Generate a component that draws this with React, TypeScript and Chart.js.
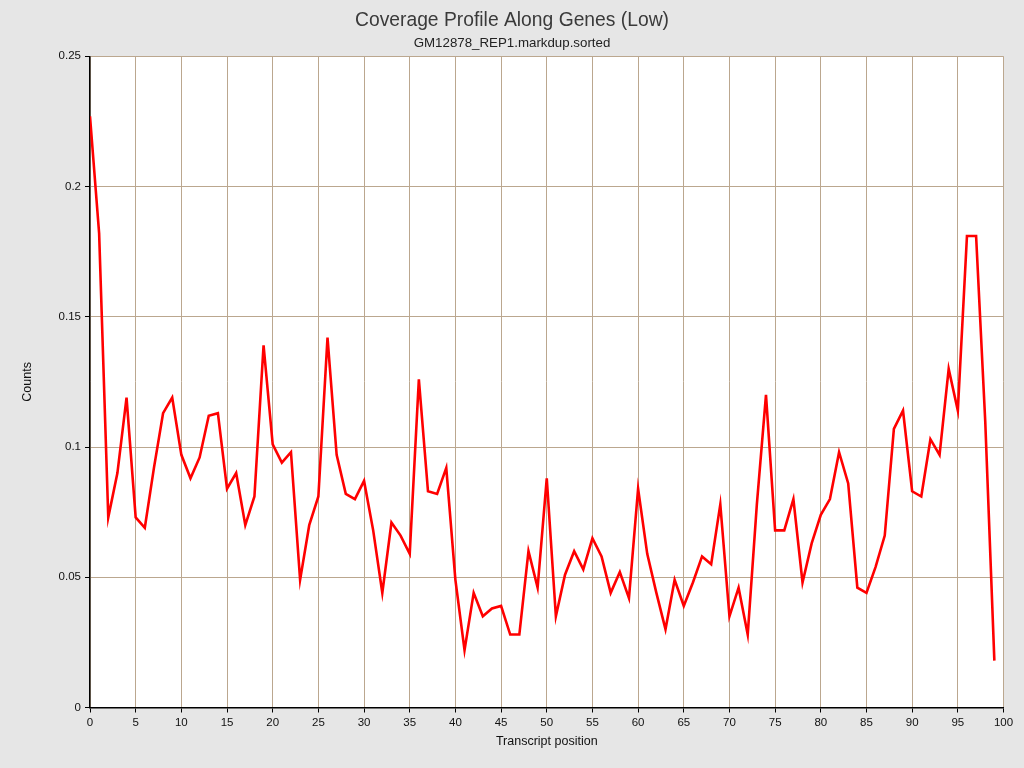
import { useEffect, useRef } from 'react';
import { Chart, registerables } from 'chart.js';

Chart.register(...registerables);

const FONT = '"Liberation Sans", Arial, Helvetica, sans-serif';

const chartTitle = 'Coverage Profile Along Genes (Low)';
const chartSubtitle = 'GM12878_REP1.markdup.sorted';
const xAxisLabel = 'Transcript position';
const yAxisLabel = 'Counts';

// transcript positions (x)
const positions = [
  0, 1, 2, 3, 4, 5, 6, 7, 8, 9, 10, 11, 12, 13, 14, 15, 16, 17, 18, 19,
  20, 21, 22, 23, 24, 25, 26, 27, 28, 29, 30, 31, 32, 33, 34, 35, 36, 37, 38, 39,
  40, 41, 42, 43, 44, 45, 46, 47, 48, 49, 50, 51, 52, 53, 54, 55, 56, 57, 58, 59,
  60, 61, 62, 63, 64, 65, 66, 67, 68, 69, 70, 71, 72, 73, 74, 75, 76, 77, 78, 79,
  80, 81, 82, 83, 84, 85, 86, 87, 88, 89, 90, 91, 92, 93, 94, 95, 96, 97, 98, 99
];

// coverage counts
const counts = [
  0.227, 0.182, 0.073, 0.090, 0.119, 0.073, 0.069, 0.092, 0.113, 0.119,
  0.097, 0.088, 0.096, 0.112, 0.113, 0.084, 0.090, 0.070, 0.081, 0.139,
  0.101, 0.094, 0.098, 0.049, 0.070, 0.081, 0.142, 0.097, 0.082, 0.080,
  0.087, 0.068, 0.044, 0.071, 0.066, 0.059, 0.126, 0.083, 0.082, 0.092,
  0.049, 0.022, 0.044, 0.035, 0.038, 0.039, 0.028, 0.028, 0.060, 0.046,
  0.088, 0.035, 0.051, 0.060, 0.053, 0.065, 0.058, 0.044, 0.052, 0.042,
  0.084, 0.059, 0.044, 0.030, 0.049, 0.039, 0.048, 0.058, 0.055, 0.078,
  0.035, 0.046, 0.028, 0.078, 0.120, 0.068, 0.068, 0.080, 0.048, 0.063,
  0.074, 0.080, 0.098, 0.086, 0.046, 0.044, 0.054, 0.066, 0.107, 0.114,
  0.083, 0.081, 0.103, 0.097, 0.130, 0.114, 0.181, 0.181, 0.110, 0.018
];

const xRange = [0, 100];
const yRange = [0, 0.25];
const yTicks = [0, 0.05, 0.1, 0.15, 0.2, 0.25];
const yTickLabels = ['0', '0.05', '0.1', '0.15', '0.2', '0.25'];

// gray page, white plot area
const backdrop = {
  id: 'backdrop',
  beforeDraw(chart: Chart) {
    const { ctx, chartArea } = chart;
    ctx.save();
    ctx.fillStyle = '#e6e6e6';
    ctx.fillRect(0, 0, chart.width, chart.height);
    ctx.fillStyle = '#ffffff';
    ctx.fillRect(chartArea.left, chartArea.top, chartArea.right - chartArea.left, chartArea.bottom - chartArea.top);
    ctx.restore();
  }
};

export default function App() {
  const canvasRef = useRef<HTMLCanvasElement>(null);
  const chartRef = useRef<Chart | null>(null);

  useEffect(() => {
    if (!canvasRef.current) return;
    if (chartRef.current) chartRef.current.destroy();

    chartRef.current = new Chart(canvasRef.current, {
      type: 'line',
      data: {
        datasets: [
          {
            label: yAxisLabel,
            data: positions.map((p, i) => ({ x: p, y: counts[i] })),
            borderColor: '#ff0000',
            borderWidth: 2.6,
            pointRadius: 0,
            tension: 0,
            fill: false,
            xAxisID: 'x',
            yAxisID: 'y'
          }
        ]
      },
      options: {
        responsive: false,
        animation: false,
        layout: { padding: 0 },
        plugins: {
          legend: { display: false },
          tooltip: { enabled: false },
          title: {
            display: true,
            text: chartTitle,
            color: '#3a3a3a',
            font: { family: FONT, size: 19.3, weight: 'normal' },
            padding: { top: 9, bottom: 0 }
          },
          subtitle: {
            display: true,
            text: chartSubtitle,
            color: '#222222',
            font: { family: FONT, size: 13.3 },
            padding: { top: 3.2, bottom: 5 }
          }
        },
        scales: {
          x: {
            type: 'linear',
            min: xRange[0],
            max: xRange[1],
            afterFit: (scale: any) => { scale.height = 60.5; },
            ticks: {
              stepSize: 5,
              color: '#111111',
              padding: 3,
              maxRotation: 0,
              font: { family: FONT, size: 11.5 }
            },
            grid: { color: '#bba78f', tickColor: '#000000', tickLength: 5, lineWidth: 1 },
            border: { display: true, color: '#000000', width: 1.5 },
            title: {
              display: true,
              text: xAxisLabel,
              color: '#111111',
              font: { family: FONT, size: 12.5 },
              padding: { top: 0, bottom: 19 }
            }
          },
          y: {
            type: 'linear',
            min: yRange[0],
            max: yRange[1],
            afterFit: (scale: any) => { scale.width = 90; },
            afterBuildTicks: (scale: any) => {
              scale.ticks = yTicks.map((v) => ({ value: v }));
            },
            ticks: {
              color: '#111111',
              padding: 4,
              font: { family: FONT, size: 11.5 },
              callback: (_v: any, i: number) => yTickLabels[i]
            },
            grid: { color: '#bba78f', tickColor: '#000000', tickLength: 5, lineWidth: 1 },
            border: { display: true, color: '#000000', width: 1.5 },
            title: {
              display: true,
              text: yAxisLabel,
              color: '#111111',
              font: { family: FONT, size: 12.5 },
              padding: { top: 20, bottom: 0 }
            }
          },
          // empty margin on the right so the titles stay centred on the page
          margin: {
            type: 'linear',
            position: 'right',
            display: true,
            afterFit: (scale: any) => { scale.width = 20.5; },
            ticks: { display: false },
            grid: { display: false, drawTicks: false },
            border: { display: false }
          }
        }
      },
      plugins: [backdrop]
    });

    return () => {
      if (chartRef.current) {
        chartRef.current.destroy();
        chartRef.current = null;
      }
    };
  }, []);

  return (
    <div style={{ position: 'absolute', left: 0, top: 0, width: 1024, height: 768, background: '#e6e6e6' }}>
      <canvas ref={canvasRef} width={1024} height={768} style={{ width: '1024px', height: '768px' }} />
    </div>
  );
}
